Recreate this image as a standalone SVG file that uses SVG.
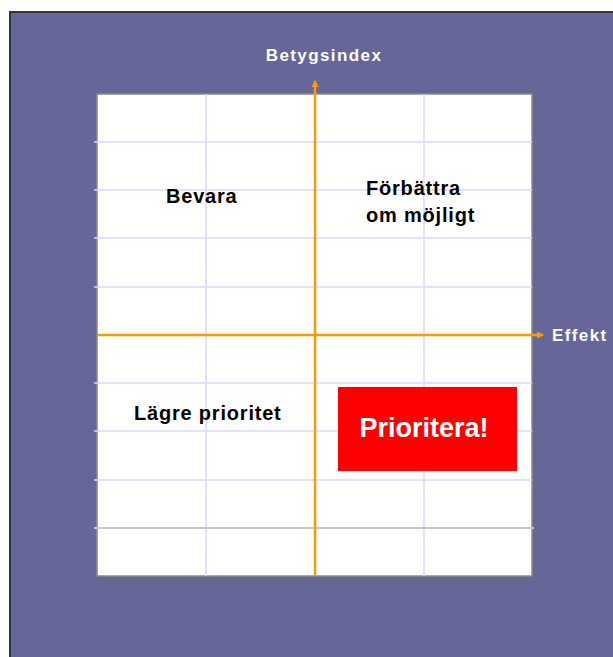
<svg xmlns="http://www.w3.org/2000/svg" width="613" height="657" viewBox="0 0 613 657">
<defs>
<style>
.lbl{font-family:"Liberation Sans",Arial,sans-serif;font-weight:bold;fill:#000;font-size:20px;letter-spacing:0.8px}
.ax{font-family:"Liberation Sans",Arial,sans-serif;font-weight:bold;fill:#fff;font-size:17px;letter-spacing:1.4px}
.grid{stroke:#d8d8fa;stroke-width:1.5}
.axis{stroke:#ff9900;stroke-width:2.5;fill:none}
</style>
<marker id="arr" markerWidth="8" markerHeight="8" refX="6" refY="4" orient="auto" markerUnits="userSpaceOnUse">
<path d="M0,0.5 L7,4 L0,7.5 Z" fill="#ff9900"/>
</marker>
</defs>
<rect x="0" y="0" width="613" height="657" fill="#fff"/>
<rect x="10" y="12" width="604" height="646" fill="#666699" stroke="#333344" stroke-width="2"/>
<g id="plot">
<rect x="97" y="94" width="435" height="482" fill="#fff" stroke="#8a8a8a" stroke-width="1.5"/>
<g class="grid">
<line x1="206" y1="94" x2="206" y2="576"/>
<line x1="424" y1="94" x2="424" y2="576"/>
<line x1="94" y1="142" x2="532" y2="142"/>
<line x1="94" y1="190" x2="532" y2="190"/>
<line x1="94" y1="238" x2="532" y2="238"/>
<line x1="94" y1="287" x2="532" y2="287"/>
<line x1="94" y1="383" x2="532" y2="383"/>
<line x1="94" y1="431" x2="532" y2="431"/>
<line x1="94" y1="480" x2="532" y2="480"/>
</g>
<line x1="94" y1="528" x2="534" y2="528" stroke="#c8c8c8" stroke-width="2"/>
</g>
<g id="connectors">
<line class="axis" x1="315" y1="576" x2="315" y2="81" marker-end="url(#arr)"/>
<line class="axis" x1="97" y1="335" x2="543" y2="335" marker-end="url(#arr)"/>
</g>
<g id="betygsindex"><text class="ax" x="324" y="61" text-anchor="middle">Betygsindex</text></g>
<g id="effekt"><text class="ax" x="552" y="341">Effekt</text></g>
<g id="bevara"><text class="lbl" x="166" y="203">Bevara</text></g>
<g id="forbattra"><text class="lbl" x="366" y="195">Förbättra</text><text class="lbl" x="366" y="222">om möjligt</text></g>
<g id="lagre"><text class="lbl" x="134" y="420">Lägre prioritet</text></g>
<g id="prioritera">
<rect x="338" y="387" width="179" height="84" fill="#ff0000"/>
<text x="424" y="437" text-anchor="middle" font-family="Liberation Sans, Arial, sans-serif" font-weight="bold" font-size="27" fill="#fff">Prioritera!</text>
</g>
</svg>
